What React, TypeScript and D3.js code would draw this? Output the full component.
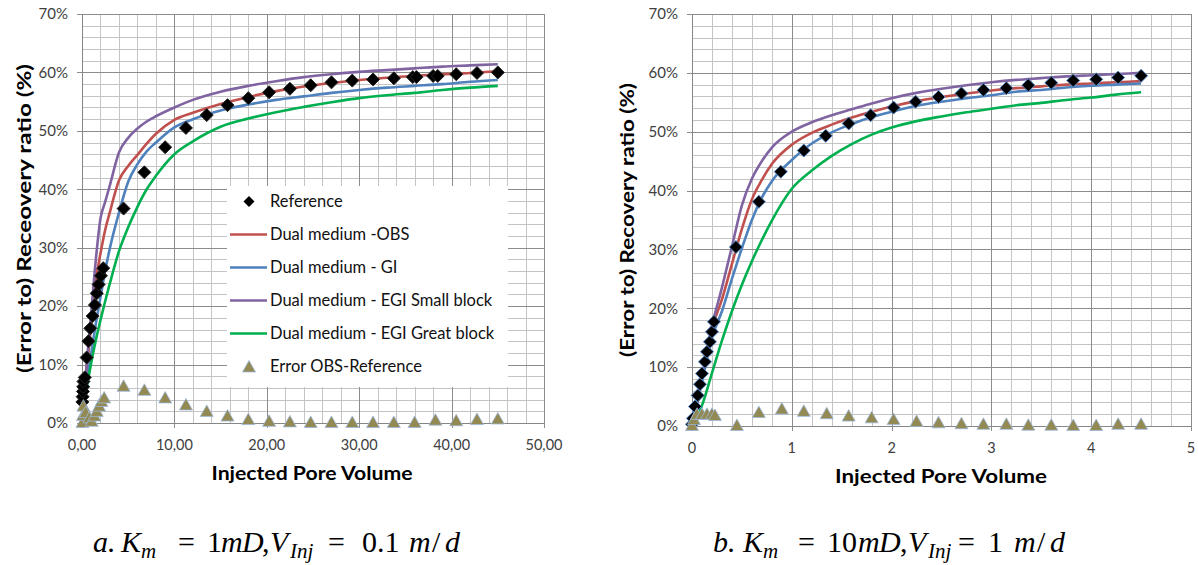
import React from "react";
import * as d3 from "d3";

const W = 1198;
const H = 565;

const legendNames = [
  "Reference",
  "Dual medium -OBS",
  "Dual medium - GI",
  "Dual medium - EGI Small block",
  "Dual medium - EGI Great block",
  "Error OBS-Reference",
];
const lineColors = ["#C0504D", "#4F81BD", "#8064A2", "#00B050"];
const yTicks = [0, 10, 20, 30, 40, 50, 60, 70];

// ---- panel a (Km = 1mD)
const aRefX = [0.04, 0.07, 0.1, 0.13, 0.16, 0.3, 0.5, 0.7, 0.9, 1.15, 1.4, 1.6, 1.8, 2.05, 2.3, 4.5, 6.75, 9, 11.25, 13.5, 15.75, 18, 20.25, 22.5, 24.75, 27, 29.25, 31.5, 33.75, 35.8, 36.2, 38.0, 38.5, 40.5, 42.75, 45];
const aRefY = [3.6, 4.5, 5.4, 6.2, 7.1, 7.8, 11.2, 14.0, 16.2, 18.3, 20.2, 22.2, 23.7, 25.2, 26.5, 36.7, 42.9, 47.2, 50.5, 52.7, 54.4, 55.6, 56.6, 57.2, 57.8, 58.3, 58.6, 58.8, 59.0, 59.2, 59.2, 59.4, 59.4, 59.7, 59.9, 60.0];
const aErrX = [0.05, 0.1, 0.15, 0.4, 0.8, 1.05, 1.35, 1.6, 1.85, 2.1, 2.4, 4.5, 6.75, 9, 11.25, 13.5, 15.75, 18, 20.25, 22.5, 24.75, 27, 29.25, 31.5, 33.75, 36, 38.25, 40.5, 42.75, 45];
const aErrY = [0, 1.2, 2.8, 1.7, 0.8, 0.2, 1.1, 1.9, 2.8, 3.6, 4.2, 6.2, 5.5, 4.2, 3.0, 1.9, 1.1, 0.5, 0.2, 0.1, 0, 0, 0, 0, 0, 0, 0.4, 0.3, 0.5, 0.6];
const aLineX = [0, 0.5, 1, 1.5, 2, 2.5, 3, 4, 5, 6, 7, 8, 10, 12, 15, 18, 21, 24, 27, 30, 33, 36, 39, 42, 45];
const aObs = [0, 9, 17, 24.5, 29, 33, 36, 41.5, 44, 45.9, 47.8, 49.5, 51.9, 53.1, 54.6, 55.8, 56.8, 57.6, 58.2, 58.7, 59.1, 59.4, 59.7, 59.9, 60.2];
const aGi = [0, 6.5, 12, 17, 21.5, 26, 29.8, 36, 41.3, 44.3, 46.5, 48.0, 50.6, 52.0, 53.5, 54.5, 55.3, 55.9, 56.5, 57.0, 57.4, 57.7, 58.0, 58.4, 58.7];
const aSmall = [0, 10, 19, 28, 35, 37.8, 40.6, 46.3, 48.8, 50.4, 51.6, 52.5, 54.0, 55.3, 56.7, 57.7, 58.5, 59.2, 59.7, 60.1, 60.4, 60.7, 61.0, 61.2, 61.4];
const aGreat = [0, 5.8, 10.3, 14.2, 17.6, 20.8, 23.8, 29.4, 33.5, 37, 40, 42.3, 46.0, 48.2, 50.7, 52.1, 53.2, 54.1, 54.9, 55.6, 56.1, 56.5, 57.0, 57.4, 57.7];

// ---- panel b (Km = 10mD)
const bRefX = [0, 0.01, 0.03, 0.057, 0.08, 0.1, 0.13, 0.15, 0.18, 0.2, 0.22, 0.44, 0.67, 0.89, 1.12, 1.34, 1.57, 1.79, 2.02, 2.24, 2.47, 2.7, 2.92, 3.15, 3.37, 3.6, 3.82, 4.05, 4.27, 4.5];
const bRefY = [0.3, 1.3, 3.3, 5.2, 7.1, 8.9, 10.9, 12.6, 14.3, 16.0, 17.7, 30.4, 38.1, 43.2, 46.8, 49.3, 51.4, 52.8, 54.1, 55.1, 55.9, 56.5, 57.1, 57.4, 57.9, 58.3, 58.7, 58.9, 59.2, 59.5];
const bErrX = [0, 0.02, 0.05, 0.1, 0.15, 0.2, 0.23, 0.45, 0.67, 0.9, 1.12, 1.35, 1.57, 1.8, 2.02, 2.25, 2.47, 2.7, 2.92, 3.15, 3.37, 3.6, 3.82, 4.05, 4.27, 4.5];
const bErrY = [0, 1.0, 1.9, 1.9, 1.9, 1.9, 1.7, 0, 2.2, 2.8, 2.4, 2.0, 1.6, 1.3, 1.0, 0.7, 0.45, 0.3, 0.2, 0.2, 0.05, 0.05, 0, 0, 0.2, 0.2];
const bLineX = [0, 0.1, 0.2, 0.3, 0.4, 0.5, 0.6, 0.7, 0.8, 1.0, 1.2, 1.4, 1.6, 1.8, 2.0, 2.25, 2.5, 2.75, 3.0, 3.25, 3.5, 3.75, 4.0, 4.25, 4.5];
const bObs = [0, 8, 16.5, 21.5, 27.5, 33.5, 38.5, 41.8, 44.5, 47.8, 49.8, 51.2, 52.4, 53.4, 54.3, 55.2, 55.9, 56.5, 57.0, 57.4, 57.7, 58.0, 58.2, 58.4, 58.6];
const bGi = [0, 7.5, 15, 19.5, 25, 30.2, 35, 38.8, 41.6, 45.2, 48.0, 49.9, 51.3, 52.5, 53.4, 54.4, 55.1, 55.7, 56.2, 56.8, 57.1, 57.5, 57.8, 58.0, 58.2];
const bSmall = [0, 8.5, 17, 23.5, 30.5, 37.5, 42, 45, 47.3, 50, 51.6, 52.8, 53.8, 54.8, 55.7, 56.6, 57.3, 57.9, 58.4, 58.8, 59.1, 59.4, 59.6, 59.8, 60.0];
const bGreat = [0, 3.5, 9, 14.5, 19.5, 24, 28, 31.6, 34.9, 40.3, 43.4, 45.9, 47.9, 49.5, 50.7, 51.8, 52.6, 53.3, 53.9, 54.5, 54.9, 55.4, 55.8, 56.3, 56.7];

// caption pieces: text, x offset from caption start, italic, subscript
const capA = [
  ["a.", 0, 1, 0], ["K", 28, 1, 0], ["m", 48, 1, 1], ["=", 85, 0, 0], ["1", 114, 0, 0],
  ["m", 128, 1, 0], ["D", 149, 1, 0], [",", 169, 0, 0], ["V", 177, 1, 0], ["Inj", 197, 1, 1],
  ["=", 235, 0, 0], ["0.1", 269, 0, 0], ["m", 316, 1, 0], ["/", 339, 0, 0], ["d", 352, 1, 0],
];
const capB = [
  ["b.", 0, 1, 0], ["K", 30, 1, 0], ["m", 50, 1, 1], ["=", 85, 0, 0], ["10", 114, 0, 0],
  ["m", 145, 1, 0], ["D", 166, 1, 0], [",", 187, 0, 0], ["V", 195, 1, 0], ["Inj", 215, 1, 1],
  ["=", 245, 0, 0], ["1", 275, 0, 0], ["m", 301, 1, 0], ["/", 324, 0, 0], ["d", 337, 1, 0],
];

const diamond = "M0,-6.5L6.5,0L0,6.5L-6.5,0Z";
const triangle = "M0,-7L6.5,4.5L-6.5,4.5Z";
const triFill = "#938953";
const sans = "Lato, sans-serif";

type PanelProps = {
  left: number; right: number; top: number; bottom: number;
  xMax: number; xStep: number; xMinor: number;
  fmt: (d: number) => string;
  refX: number[]; refY: number[]; errX: number[]; errY: number[];
  lineX: number[]; lines: number[][];
  yTitle: string; yTitleX: number; yTitleLen: number;
  xTitleX: number; xTitleY: number; xTitleLen: number;
  xLabelY: number; diamondStroke: string;
  legend?: boolean;
};

function Panel(p: PanelProps) {
  const x = d3.scaleLinear().domain([0, p.xMax]).range([p.left, p.right]);
  const y = d3.scaleLinear().domain([0, 70]).range([p.bottom, p.top]);
  const nMinorX = Math.round(p.xMax / p.xMinor);
  const minorX = d3.range(0, nMinorX + 1).map((i) => i * p.xMinor);
  const majorX = d3.range(0, Math.round(p.xMax / p.xStep) + 1).map((i) => i * p.xStep);
  const minorY = d3.range(0, 36).map((i) => i * 2);
  const line = d3.line<number>().x((d, i) => x(p.lineX[i])).y((d) => y(d)).curve(d3.curveMonotoneX);
  const cx = (v: number) => Math.round(x(v)) + 0.5;
  const cy = (v: number) => Math.round(y(v)) + 0.5;
  const yMid = (p.top + p.bottom) / 2;

  return (
    <g>
      {minorX.map((v, i) => (
        <line key={"mx" + i} x1={cx(v)} x2={cx(v)} y1={p.top} y2={p.bottom} stroke="#C4C4C4" />
      ))}
      {minorY.map((v, i) => (
        <line key={"my" + i} x1={p.left} x2={p.right} y1={cy(v)} y2={cy(v)} stroke="#C4C4C4" />
      ))}
      {majorX.map((v, i) => (
        <line key={"Mx" + i} x1={cx(v)} x2={cx(v)} y1={p.top} y2={p.bottom + 5} stroke="#8C8C8C" />
      ))}
      {yTicks.map((v, i) => (
        <line key={"My" + i} x1={p.left - 5} x2={p.right} y1={cy(v)} y2={cy(v)} stroke="#8C8C8C" />
      ))}
      <line x1={cx(0)} x2={cx(0)} y1={p.top} y2={p.bottom} stroke="#868686" />
      <line x1={p.left} x2={p.right} y1={cy(0)} y2={cy(0)} stroke="#868686" />

      {yTicks.map((v) => (
        <text key={"yl" + v} x={p.left - 14} y={y(v)} dy="0.35em" textAnchor="end"
          fontFamily={sans} fontSize={15} fill="#404040">{v + "%"}</text>
      ))}
      {majorX.map((v) => (
        <text key={"xl" + v} x={x(v)} y={p.xLabelY} textAnchor="middle"
          fontFamily={sans} fontSize={14.5} fill="#404040">{p.fmt(v)}</text>
      ))}

      {p.lines.map((s, i) => (
        <path key={"ln" + i} d={line(s) || ""} fill="none" stroke={lineColors[i]} strokeWidth={2.6} />
      ))}
      {p.refX.map((v, i) => (
        <path key={"rf" + i} d={diamond} transform={`translate(${x(v)},${y(p.refY[i])})`}
          fill="#000" stroke={p.diamondStroke} strokeWidth={1} />
      ))}
      {p.errX.map((v, i) => (
        <path key={"er" + i} d={triangle} transform={`translate(${x(v)},${y(p.errY[i])})`}
          fill={triFill} stroke="#9DB9DD" strokeWidth={0.8} />
      ))}

      <text transform={`translate(${p.yTitleX},${yMid}) rotate(-90)`} textAnchor="middle"
        fontFamily={sans} fontWeight="bold" fontSize={18}
        textLength={p.yTitleLen} lengthAdjust="spacingAndGlyphs">{p.yTitle}</text>
      <text x={p.xTitleX} y={p.xTitleY} textAnchor="middle"
        fontFamily={sans} fontWeight="bold" fontSize={18}
        textLength={p.xTitleLen} lengthAdjust="spacingAndGlyphs">Injected Pore Volume</text>

      {p.legend && <Legend />}
    </g>
  );
}

function Legend() {
  const lx = 227, ly = 186, lw = 281, lh = 201;
  const rowY = d3.range(0, 6).map((i) => 201.5 + i * 33);
  return (
    <g>
      <rect x={lx} y={ly} width={lw} height={lh} fill="#fff" />
      {legendNames.map((name, i) => (
        <g key={name}>
          {i === 0 && <path d={diamond} transform={`translate(249,${rowY[i]}) scale(0.85)`} fill="#000" />}
          {i > 0 && i < 5 && (
            <line x1={230} x2={267} y1={rowY[i]} y2={rowY[i]} stroke={lineColors[i - 1]} strokeWidth={2.6} />
          )}
          {i === 5 && <path d={triangle} transform={`translate(249,${rowY[i] + 1})`} fill={triFill} stroke="#9DB9DD" strokeWidth={0.8} />}
          <text x={270} y={rowY[i]} dy="0.36em" fontFamily={sans} fontSize={16.5} fill="#111">{name}</text>
        </g>
      ))}
    </g>
  );
}

function Caption(props: { x: number; parts: (string | number)[][] }) {
  return (
    <text y={552} fontFamily="'Liberation Serif', serif" fontSize={30} fill="#000">
      {props.parts.map(([t, dx, it, sub], i) => (
        <tspan key={i} x={props.x + (dx as number)} y={sub ? 558 : 552}
          fontStyle={it ? "italic" : "normal"} fontSize={sub ? 21 : 30}>{t as string}</tspan>
      ))}
    </text>
  );
}

export default function App() {
  const fmtA = (d: number) => d3.format(".2f")(d).replace(".", ",");
  const fmtB = (d: number) => String(d);
  return (
    <svg width={W} height={H} style={{ position: "absolute", left: 0, top: 0, background: "#fff" }}>
      <Panel left={82} right={544} top={14} bottom={423} xMax={50} xStep={10} xMinor={2} fmt={fmtA}
        refX={aRefX} refY={aRefY} errX={aErrX} errY={aErrY} lineX={aLineX}
        lines={[aObs, aGi, aSmall, aGreat]}
        yTitle="(Error to) Receovery ratio (%)" yTitleX={31} yTitleLen={309}
        xTitleX={312} xTitleY={480} xTitleLen={201} xLabelY={450} diamondStroke="#222" legend />
      <Panel left={692} right={1191} top={14} bottom={426} xMax={5} xStep={1} xMinor={0.2} fmt={fmtB}
        refX={bRefX} refY={bRefY} errX={bErrX} errY={bErrY} lineX={bLineX}
        lines={[bObs, bGi, bSmall, bGreat]}
        yTitle="(Error to) Recovery ratio (%)" yTitleX={634} yTitleLen={274}
        xTitleX={941} xTitleY={483} xTitleLen={212} xLabelY={453} diamondStroke="#4F81BD" />
      <Caption x={93} parts={capA} />
      <Caption x={713} parts={capB} />
    </svg>
  );
}
